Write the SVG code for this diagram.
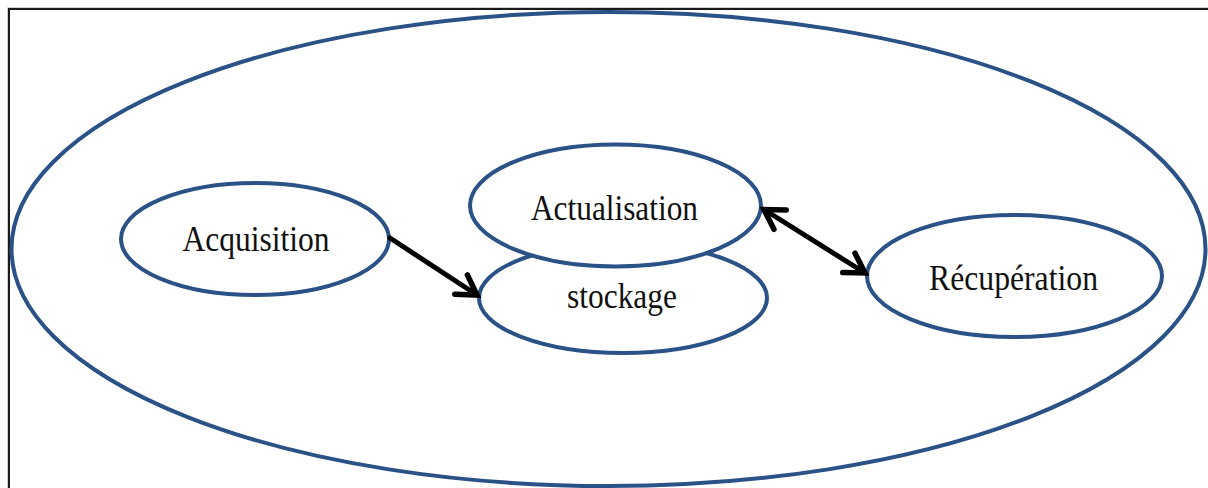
<svg xmlns="http://www.w3.org/2000/svg" width="1208" height="488" viewBox="0 0 1208 488">
  <style>
    .node { fill: #ffffff; stroke: #2b5286; stroke-width: 4; }
    .label { font-family: "Liberation Serif", "Times New Roman", serif; font-size: 35px; fill: #111111; text-anchor: middle; }
    .link { fill: none; stroke: #000000; stroke-width: 5; stroke-linecap: round; }
  </style>
  <defs>
    <marker id="chevron" markerUnits="userSpaceOnUse" markerWidth="40" markerHeight="40" viewBox="-30 -20 40 40" refX="0" refY="0" orient="auto-start-reverse" overflow="visible">
      <path d="M-19,-11.5 L0,0 L-19,11.5" fill="none" stroke="#000000" stroke-width="5.5" stroke-linecap="round" stroke-linejoin="miter"/>
    </marker>
  </defs>

  <rect width="1208" height="488" fill="#ffffff"/>

  <!-- frame: top and left edges -->
  <g id="frame">
    <path d="M7.5,488 V7.5 H1208" fill="none" stroke="#cfcfcf" stroke-width="1"/>
    <path d="M9,488 V9 H1208" fill="none" stroke="#1a1a1a" stroke-width="2"/>
  </g>

  <!-- enclosing system boundary -->
  <g id="system">
    <ellipse class="node" cx="608.5" cy="249" rx="597" ry="237" fill="none"/>
  </g>

  <g id="acquisition">
    <ellipse class="node" cx="255" cy="239" rx="134" ry="56"/>
    <text class="label" x="256" y="251" textLength="147" lengthAdjust="spacingAndGlyphs">Acquisition</text>
  </g>

  <g id="stockage">
    <ellipse class="node" cx="623" cy="298" rx="144" ry="55"/>
    <text class="label" x="622" y="308" textLength="110" lengthAdjust="spacingAndGlyphs">stockage</text>
  </g>

  <g id="actualisation">
    <ellipse class="node" cx="615.5" cy="205.5" rx="145.5" ry="61"/>
    <text class="label" x="614.5" y="220" textLength="167" lengthAdjust="spacingAndGlyphs">Actualisation</text>
  </g>

  <g id="recuperation">
    <ellipse class="node" cx="1014.5" cy="276" rx="147.5" ry="61"/>
    <text class="label" x="1013.5" y="290" textLength="169" lengthAdjust="spacingAndGlyphs">Récupération</text>
  </g>

  <g id="connectors">
    <line class="link" x1="390" y1="238" x2="477" y2="295" marker-end="url(#chevron)"/>
    <line class="link" x1="764" y1="209.5" x2="865" y2="273" marker-start="url(#chevron)" marker-end="url(#chevron)"/>
  </g>
</svg>
